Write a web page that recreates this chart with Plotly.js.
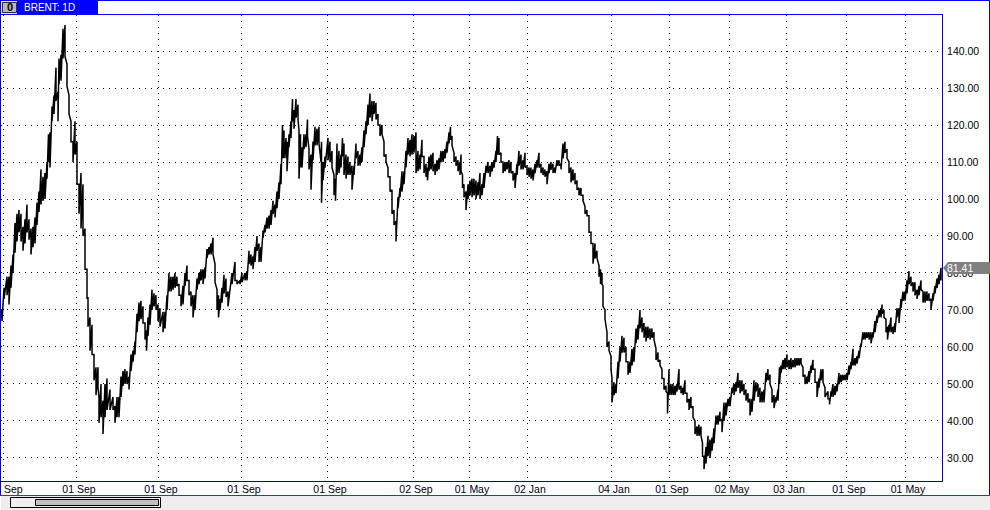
<!DOCTYPE html>
<html>
<head>
<meta charset="utf-8">
<script src="https://cdn.plot.ly/plotly-3.0.1.min.js"></script>
<style>html,body{margin:0;padding:0;background:#fff;overflow:hidden}#chart{width:990px;height:510px}</style>
</head>
<body>
<div id="chart"></div>
<script>
var chartTitle = "BRENT: 1D";
var lastPrice = 81.41;
var dateTickBars = [3,76,158,241,327,413,469,527,611,669,729,786,846,905];
var dateTickText = ["","01 Sep","01 Sep","01 Sep","01 Sep","02 Sep","01 May","02 Jan","04 Jan","01 Sep","02 May","03 Jan","01 Sep","01 May"];
var priceTicks = [30,40,50,60,70,80,90,100,110,120,130,140];

var bars = [
1,2,4,7,9,11,13,15,17,19,
21,23,25,27,29,31,33,35,37,39,
41,43,45,47,48.5,50,52,54,56,58,
59,61,63,65,67,69,71,73,75,77,
79,81,83,85,87,88,90,92,94,96,
98,99,101,103,105,107,110,113,115,117,
119,121,123,125,127,129,131,133,135,137,
139,141,143,145,146.5,148,150,152,154,156,
158,160,163,165,167,169,171,173,175,177,
179,181,183,185,187,189,191,193,195,197,
199,201,203,205,207,209,211,213,215,217,
218.5,220,222,224,226,228,232,235,237,240,
242,245,247,249,251,253,255,257,259,261,
263,265,267,269,271,273,275,277,279,281,
282.5,284,286,287,289,291,292.5,294,296,298,
299,300.5,302,304,306,307.5,309,311,313,315,
317,319,321,321.5,323,325,328,330,332,334,
335.5,337,339,341,342.5,344,346,348,350,352,
354,356,358,360,362,364,366,368,370,372,
374,376,378,380,382,384,386,388,390,392,
394,396,398,400,402,404,406,408,410,412,
414,416,418,420,422,424,426,427.5,429,431,
433,435,437,439,441,443,445,447,449,450.5,
452,454,456,458,460,461,462.5,464,466,468,
470,472,474,476,478,480,482,484,486,488,
490,492,494,496,497.5,499,501,503,505,507,
509,511,513,515,517,519,521,523,525,527,
529,531,533,535,537,539,541,543,545,547,
549,551,553,555,557,559,561,563,565,567,
569,571,573,575,577,579,581,583,585,587,
589,591,593,595,597,599,600.5,602,603,605,
607,609,611,612,614,616,618,620,622,624,
626,628,630,632,634,636,638,640,642,644,
646,648,650,652,654,656,658,660,662,664,
666,667.5,669,671,673,675,677,679,681,683,
685,687,689,691,693,695,697,699,701,702.5,
704,706,708,710,712,714,716,718,720,722,
724,726,728,730,732,734,736,738,740,742,
744,746,748,750,752,754,756,758,760,762,
764,766,768,770,772,774,776,778,779.5,781,
783,785,787,789,791,793,795,797,799,801,
803,805,807,809,811,813,815,817,819,821,
823,825,828,829.5,831,833,835,837,839,841,
843,845,847,849,851,853,855,857,859,861,
863,865,867,869,871,873,875,877,879,881,
882,884,886,887.5,889,891,893,895,897,899,
901,903,905,907,909,911,913,915,917,919,
921,923,925,927,929,931,933,935,937,939,
941
];
var highs = [
70,70,76,79,79,82,85,93.5,96,97,
96,92.5,94.5,98.5,94.5,92,92.5,95,99,102,
108,106,107,110,117.5,118,125,128,135.5,129,
138,139,146,147,136.5,128,121,115.5,121,115.5,
104,107,104,92,81,73.5,68,66,58,54.5,
54.5,46.5,50,45.5,50,51.5,48.5,46.5,44,46.5,
46.5,52,53.5,54,53.5,52,58,59,61.5,69,
72,72.5,71,66.5,64.5,68,71.5,75.5,74.5,74,
71.5,70.5,69.5,69.5,74,80,79,79,80,79,
77,74,76.5,80,82,78,75,74,74,78.5,
80,81,81,81.5,86.5,87,88,89.5,82.5,75.5,
74,73,76,79.5,78.5,75,80,83,78,78,
80,80,80.5,86,85,84.5,87,90,88,87,
91.5,93,95,95.5,97,99.5,98.5,102,104.5,109.5,
120,118.5,116.5,115.5,117.5,121,127,124,127,125.5,
118.5,117.5,114,117.5,117.5,121.5,113.5,112,115.5,119.5,
119,119.5,110,115.5,110,111.5,116.5,115.5,113,106.5,
105.5,115,113,112,116.5,115,112,111.5,110,109,
109,115,113,112,114,118.5,121,125.5,128.5,126.5,
126.5,126,123,120,120,115.5,112,108.5,106,102.5,
97,94,100.5,103,107.5,107.5,113,116.5,116,117.5,
117,118,113,112,116,111.5,109.5,108.5,111.5,112,
112.5,109.5,110.5,111,113,113,113.5,115.5,118,119.5,
117,112.5,111.5,110.5,110,112,106.5,104,102,104,
105,105.5,105.5,105,104.5,107,104,107,109,110,
109,110,110.5,113,117,116.5,112.5,110,110,110,
110.5,110,107.5,107,109.5,113,112,110.5,112.5,109,
108.5,108.5,108,109.5,110.5,112.5,109.5,108.5,108,107.5,
109.5,110,109.5,108.5,110.5,110.5,109.5,115,115.5,113.5,
110,108.5,108,107,105,103,103,101,98,97,
95.5,91,88,88,86,82,81,80,76.5,70,
64,61.5,57.5,51.5,50.5,50,56,60,63,62.5,
60,56,56,59.5,60,65,66,70,68,66.5,
65.5,65.5,65,65,64,59.5,58.5,56.5,54,51.5,
49.5,47.5,54,50,50,49.5,50,54,49.5,49,
51,47.5,46,46.5,44,40,38.5,39,38.5,34,
30.5,33,36,35,35.5,38,41.5,41.5,42.5,40.5,
45,45,46,46.5,49,50,50.5,53,51,51,
50,48.5,47.5,46,46,51,50.5,50,49,48,
48.5,53,54,52.5,48.5,47,46.5,48.5,54.5,55,
56.5,57,58,56.5,57,56.5,57,57,57,57,
54.5,52.5,52,53.5,55,56.5,54,50.5,51.5,54,
54,49,48,46,48,50,49.5,50,53,52.5,
52.5,52.5,53,55,56,59.5,57,57.5,59,61,
64,64,64,64,64,64,67,68.5,70,70.5,
71.5,70,67.5,65.5,66,68,65.5,66.5,70.5,70.5,
73,75,75,78,80.5,79,77.5,77.5,75.5,76.5,
78,75,75,75,74.5,73,74.5,76.5,78.5,79.5,
81.41
];
var lows = [
68,67,73,74,71.5,76,80,85.5,88.5,91,
88.5,86,88,91,89,85,87,88,93,96.5,
98.5,99.5,100,105.5,110,108.5,121,123,126.5,121,
131,132,138,138.5,130.5,123,115.5,110,112,104,
96,92,90,81,73,65.5,59,58,51,47,
49,39.5,41,36.5,41,43,43,43,39.5,41,
41,46.5,49.5,50,50,48.5,53.5,56,58,64,
67,67.5,66.5,62,59,63,66,70,71,70,
67,65.5,64,65,70,75,75,75.5,76,76.5,
74,71,71.5,76.5,78,74,71,68,70,75.5,
77,78,77,78.5,84,85,85,85,77.5,70,
68,70,72,74.5,73.5,71,77,78,77,77,
77.5,78,78,82.5,82,81,83,86,83,83,
89.5,91,92,92,93,96,95,97.5,100,104,
111,111,111,107.5,114,116.5,121,119,122,121.5,
105.5,108.5,108.5,113.5,114,117,108,102.5,110.5,114.5,
114.5,115,104.5,99,105,108.5,110.5,110,108.5,101,
99.5,106.5,107,108.5,111.5,106.5,105.5,106.5,106.5,102.5,
106.5,111,109,109,110,114,117.5,120,122,121,
123,121.5,120,117,117.5,111.5,110,106,102,96,
93,88.5,97.5,100.5,102,104,108.5,112,111.5,112,
112.5,107,107.5,108,111.5,107,106,105,107.5,108,
107.5,106.5,107.5,108,110,110,111,112.5,115,116,
114.5,110,109,107.5,106.5,107.5,103,100.5,97,100,
101,100.5,101,100,101,100,101,103,107,107,
106,107.5,108.5,110,112,112,110,107,107.5,108,
107,107,105,103,106.5,109,108,108,108.5,106.5,
106,105.5,105,107,108.5,108.5,107,106.5,106,104,
107,108,107,107,109,109,108,111,112.5,111,
107,104.5,105,104,102.5,101,101,99.5,96,95.5,
91,88,82.5,84,84,79,77,77,71,67.5,
60,59,54,45,47,47.5,51.5,56,58.5,58.5,
56,52.5,53,55,56,61,62,65,64,62.5,
61.5,62.5,62,62.5,62,56.5,56,55,51.5,48.5,
48,42,47,47,47,47,48,48.5,47.5,47,
47.5,45,43,43.5,41,36.5,36,36,36,30.5,
27,28.5,30.5,30,32,34,39,39,40,37,
40,41.5,44,44,47.5,47,48,49,47.5,48,
47,45.5,45,41.5,42.5,45.5,48,46.5,45,45,
45,50.5,51,50,45,43.5,45,45.5,50,53,
54,54,54.5,54,54,54.5,54.5,55,55,55.5,
52,50,50,50.5,53,54,50.5,46.5,49,51,
50.5,46.5,46,44.5,46.5,46.5,47,48,50,50.5,
51,51,51,52.5,54,55,55,55.5,57,60,
62,62,62.5,62,61,62.5,64,66.5,68,68,
69,68,64,62,64,64,63.5,64,68,66.5,
70.5,72.5,72.5,74.5,77,76.5,75,74,73,74,
75.5,72,72,72.5,72.5,70,72.5,74.5,76,77,
78
];

// Each bar is drawn as a high-low stroke, joined to the next one.
var lineX = [], lineY = [];
bars.forEach(function (b, i) {
  lineX.push(b, b);
  lineY.push(highs[i], lows[i]);
});

var W = 990, H = 510, L = 1, R = 942, T = 15, B = 481;
function px(x) { return (x - L) / (R - L); }
function py(y) { return (B - y) / (B - T); }
var uiFont = "Liberation Sans, Arial, sans-serif";
function box(x0, y0, x1, y1, fill, line, lw) {
  return {type:"rect", xref:"paper", yref:"paper", x0:px(x0), x1:px(x1), y0:py(y0), y1:py(y1),
          fillcolor:fill, line:{color:line || fill, width:lw === undefined ? 0 : lw}, layer:"above"};
}
function seg(x0, y0, x1, y1, color, lw) {
  return {type:"line", xref:"paper", yref:"paper", x0:px(x0), x1:px(x1), y0:py(y0), y1:py(y1),
          line:{color:color, width:lw || 1}, layer:"above"};
}

var tagTop = 262, tagBottom = 274, tagMid = 268;
var shapes = [
  box(0, 0, 989.5, 14, "#ffffff"),
  box(17, 0, 98, 14, "#0000ff"),
  box(0, 0, 17, 14, "#dcdcdc"),
  box(2.5, 2.5, 16.5, 12.5, "#b8b8b8", "#303030", 1),
  seg(0, 14.5, 943, 14.5, "#0000ff"),
  seg(0.5, 0, 0.5, 495, "#0000ff"),
  seg(0, 0.5, 990, 0.5, "#0000ff"),
  seg(942.5, 14.5, 942.5, 481.5, "#0000c8"),
  seg(0, 481.5, 943, 481.5, "#0000a8"),
  seg(989.5, 0, 989.5, 495, "#0000ff"),
  box(1, 496, 990, 510, "#eeeeee"),
  seg(0, 495.5, 990, 495.5, "#0050b0"),
  box(10.5, 497.5, 160.5, 507.5, "#eeeeee", "#000000", 1),
  box(35.5, 499.5, 158.5, 505.5, "#c0c0c0", "#000000", 1),
  {type:"path", xref:"paper", yref:"paper",
   path:"M" + px(943) + "," + py(tagMid) +
        " L" + px(948) + "," + py(tagTop) +
        " L" + px(990) + "," + py(tagTop) +
        " L" + px(990) + "," + py(tagBottom) +
        " L" + px(948) + "," + py(tagBottom) + " Z",
   fillcolor:"#808080", line:{width:0}, layer:"above"}
];

var annotations = [
  {text:chartTitle, xref:"paper", yref:"paper", x:px(22), y:py(7.5), xanchor:"left", yanchor:"middle",
   showarrow:false, font:{family:uiFont, size:10, color:"#ffffff"}},
  {text:"0", xref:"paper", yref:"paper", x:px(9.5), y:py(7.5), xanchor:"center", yanchor:"middle",
   showarrow:false, font:{family:uiFont, size:11, color:"#000000", weight:700}},
  {text:"Sep", xref:"paper", yref:"paper", x:px(13), y:py(488.5), xanchor:"center", yanchor:"middle",
   showarrow:false, font:{family:uiFont, size:10.5, color:"#000000"}},
  {text:lastPrice.toFixed(2), xref:"paper", yref:"paper", x:px(945), y:py(tagMid), xanchor:"left", yanchor:"middle",
   showarrow:false, font:{family:uiFont, size:10.5, color:"#ffffff"}}
];

var data = [{type:"scatter", mode:"lines", x:lineX, y:lineY, hoverinfo:"skip",
             line:{color:"#000000", width:1.5, shape:"linear"}}];

var layout = {
  width:W, height:H, margin:{l:L, r:W - R, t:T, b:H - B, pad:0},
  paper_bgcolor:"#ffffff", plot_bgcolor:"#ffffff", showlegend:false,
  font:{family:uiFont, size:10.5, color:"#000000"},
  xaxis:{range:[L, R], tickmode:"array", tickvals:dateTickBars, ticktext:dateTickText, ticks:"", ticklen:0,
         showgrid:true, gridcolor:"#000000", gridwidth:1, griddash:"1px,5px", zeroline:false, showline:false,
         ticklabelshift:3, tickfont:{family:uiFont, size:10.5, color:"#000000"}, fixedrange:true},
  yaxis:{range:[23.78, 149.73], side:"right", tickmode:"array", tickvals:priceTicks, tickformat:".2f",
         ticks:"outside", ticklen:2, tickcolor:"#ffffff", tickwidth:1,
         showgrid:true, gridcolor:"#000000", gridwidth:1, griddash:"1px,5px", zeroline:false, showline:false,
         tickfont:{family:uiFont, size:10.5, color:"#000000"}, fixedrange:true},
  shapes:shapes, annotations:annotations
};
Plotly.newPlot("chart", data, layout, {displayModeBar:false, staticPlot:true});
</script>
</body>
</html>
